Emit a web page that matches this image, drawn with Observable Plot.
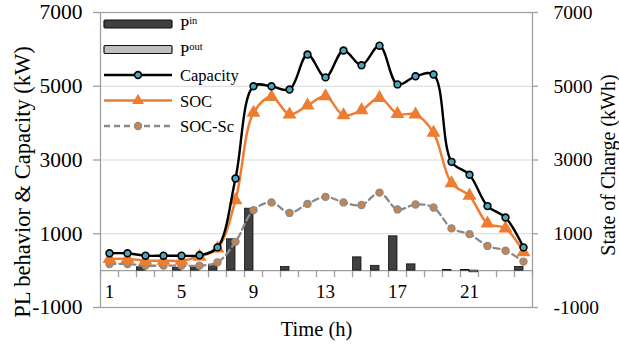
<!DOCTYPE html>
<html><head><meta charset="utf-8">
<script src="https://cdn.jsdelivr.net/npm/d3@7"></script>
<script src="https://cdn.jsdelivr.net/npm/@observablehq/plot@0.6"></script>
<style>
body{margin:0;background:#fff;font-family:"Liberation Serif","Times New Roman",serif;}
#wrap{position:relative;width:619px;height:353px;}
#legend{position:absolute;left:0;top:0;pointer-events:none;}
</style></head><body><div id="wrap"></div>
<script>
// ---- data ----
const hours = [1,2,3,4,5,6,7,8,9,10,11,12,13,14,15,16,17,18,19,20,21,22,23,24];
const pIn   = [0,0,90,0,70,90,160,850,1680,0,100,0,0,0,360,130,930,170,0,15,15,0,0,100];
const pOut  = [0,0,0,0,0,0,0,0,0,0,0,0,0,0,0,0,0,0,0,0,-45,0,0,0];
const capacity = [470,470,405,405,405,415,630,2500,5000,5000,4910,5860,5240,5970,5570,6100,5050,5270,5320,2950,2600,1750,1440,630];
const soc      = [315,315,270,270,270,380,600,1910,4280,4710,4235,4480,4730,4215,4350,4685,4250,4235,3740,2370,2030,1280,1145,500];
const socSc    = [180,180,135,135,135,135,225,780,1640,1850,1565,1810,2000,1850,1780,2115,1660,1795,1710,1145,990,670,540,245];
const xTickLabels = [1,5,9,13,17,21];
const yTicks = [-1000,1000,3000,5000,7000];
const gridValues = [1000,3000,5000];
const legendNames = ["in","out","Capacity","SOC","SOC-Sc"];

const rows = hours.map((h,i)=>({hour:h, pin:pIn[i], pout:pOut[i], cap:capacity[i], soc:soc[i], sc:socSc[i]}));
const boundaries = d3.range(0.5, 25, 1);

const W=619, H=353, mL=100, mR=87, mT=12, mB=46;
const zeroShift = (H-mT-mB) * (0 - (-1000)) / 8000; // px from bottom of frame to y=0

const cOrange = "#ED7D31", cCapFill = "#4BA3BC", cScFill = "#C8844C", cScLine = "#8A8A8A";
const serif = '"Liberation Serif","Times New Roman",serif';

const chart = Plot.plot({
  width: W, height: H,
  marginLeft: mL, marginRight: mR, marginTop: mT, marginBottom: mB,
  style: {fontFamily: serif, fontSize: "19px", color: "#000", background: "#fff"},
  x: {domain: [0.5, 24.5], axis: null, label: null},
  y: {domain: [-1000, 7000], axis: null, label: null},
  marks: [
    Plot.ruleY(gridValues, {stroke: "#d9d9d9", strokeWidth: 1.2}),
    Plot.frame({stroke: "#a0a0a0", strokeWidth: 1.3}),
    Plot.ruleY([0], {stroke: "#a0a0a0", strokeWidth: 1.3}),
    Plot.axisX(boundaries, {anchor: "bottom", tickSize: 7, tickFormat: () => "", label: null, dy: -zeroShift, stroke: "#a0a0a0", strokeWidth: 1.3}),
    Plot.text(xTickLabels, {x: d => d, y: 0, dy: 21, fontSize: 19, text: d => String(d)}),
    Plot.axisY(yTicks, {anchor: "left", tickSize: 7, tickPadding: 11, fontSize: 21.5, tickFormat: d => String(d), stroke: "#a0a0a0", strokeWidth: 1.3, label: null}),
    Plot.axisY(yTicks, {anchor: "right", tickSize: 5, tickPadding: 16, fontSize: 19.5, tickFormat: d => String(d), stroke: "#a0a0a0", strokeWidth: 1.3, label: null}),
    Plot.rect(rows.filter(d => d.pin !== 0), {x1: d => d.hour - 0.47, x2: d => d.hour, y1: 0, y2: "pin", fill: "#404040", stroke: "#111", strokeWidth: 0.8}),
    Plot.rect(rows.filter(d => d.pout !== 0), {x1: d => d.hour, x2: d => d.hour + 0.47, y1: 0, y2: "pout", fill: "#bfbfbf", stroke: "#111", strokeWidth: 0.8}),
    Plot.line(rows, {x: "hour", y: "sc", stroke: cScLine, strokeWidth: 2.3, strokeDasharray: "6,4", curve: "catmull-rom"}),
    Plot.dot(rows, {x: "hour", y: "sc", r: 3.6, fill: cScFill, stroke: cScLine, strokeWidth: 1.2}),
    Plot.line(rows, {x: "hour", y: "soc", stroke: cOrange, strokeWidth: 2.5, curve: "catmull-rom"}),
    Plot.dot(rows, {x: "hour", y: "soc", symbol: "triangle", r: 4.2, fill: cOrange, stroke: cOrange}),
    Plot.line(rows, {x: "hour", y: "cap", stroke: "#000", strokeWidth: 2.4, curve: "catmull-rom"}),
    Plot.dot(rows, {x: "hour", y: "cap", r: 3.4, fill: cCapFill, stroke: "#000", strokeWidth: 1.6}),
    Plot.text(["PL behavior & Capacity (kW)"], {frameAnchor: "left", textAnchor: "middle", lineAnchor: "middle", rotate: -90, dx: -78, dy: 22, fontSize: 22.5}),
    Plot.text(["State of Charge (kWh)"], {frameAnchor: "right", textAnchor: "middle", lineAnchor: "middle", rotate: -90, dx: 76, dy: 5, fontSize: 20}),
    Plot.text(["Time (h)"], {frameAnchor: "bottom", textAnchor: "middle", lineAnchor: "middle", dy: 22, fontSize: 20.5})
  ]
});
const wrap = document.getElementById("wrap");
wrap.appendChild(chart);

// legend overlay (SVG) in the top-left of the plot area
const sw = 68, lx = 104, ly0 = 24, lstep = 25.5;
const leg = d3.create("svg").attr("id","legend").attr("width", W).attr("height", 150)
  .style("font-family", serif).style("font-size", "16.5px");
legendNames.forEach((name, i) => {
  const cy = ly0 + i * lstep;
  const g = leg.append("g").attr("transform", `translate(${lx},${cy})`);
  if (i < 2) {
    g.append("rect").attr("x",0).attr("y",-4).attr("width",sw).attr("height",8).attr("rx",1.2)
     .attr("fill", i === 0 ? "#404040" : "#bfbfbf").attr("stroke","#111").attr("stroke-width",1.2);
    const t = g.append("text").attr("x", sw + 8).attr("y", 6);
    t.append("tspan").text("P");
    t.append("tspan").attr("dy", -6).style("font-size","10.5px").text(name);
  } else {
    if (i === 2) {
      g.append("line").attr("x2",sw).attr("stroke","#000").attr("stroke-width",2.4);
      g.append("circle").attr("cx",sw/2).attr("r",3.4).attr("fill",cCapFill).attr("stroke","#000").attr("stroke-width",1.6);
    } else if (i === 3) {
      g.append("line").attr("x2",sw).attr("stroke",cOrange).attr("stroke-width",2.5);
      g.append("path").attr("d", d3.symbol(d3.symbolTriangle, 60)()).attr("transform",`translate(${sw/2},0)`).attr("fill",cOrange);
    } else {
      g.append("line").attr("x2",sw).attr("stroke",cScLine).attr("stroke-width",2.3).attr("stroke-dasharray","6,4");
      g.append("circle").attr("cx",sw/2).attr("r",3.6).attr("fill",cScFill).attr("stroke",cScLine).attr("stroke-width",1.2);
    }
    g.append("text").attr("x", sw + 8).attr("y", 6).text(name);
  }
});
wrap.appendChild(leg.node());
</script>
</body></html>
